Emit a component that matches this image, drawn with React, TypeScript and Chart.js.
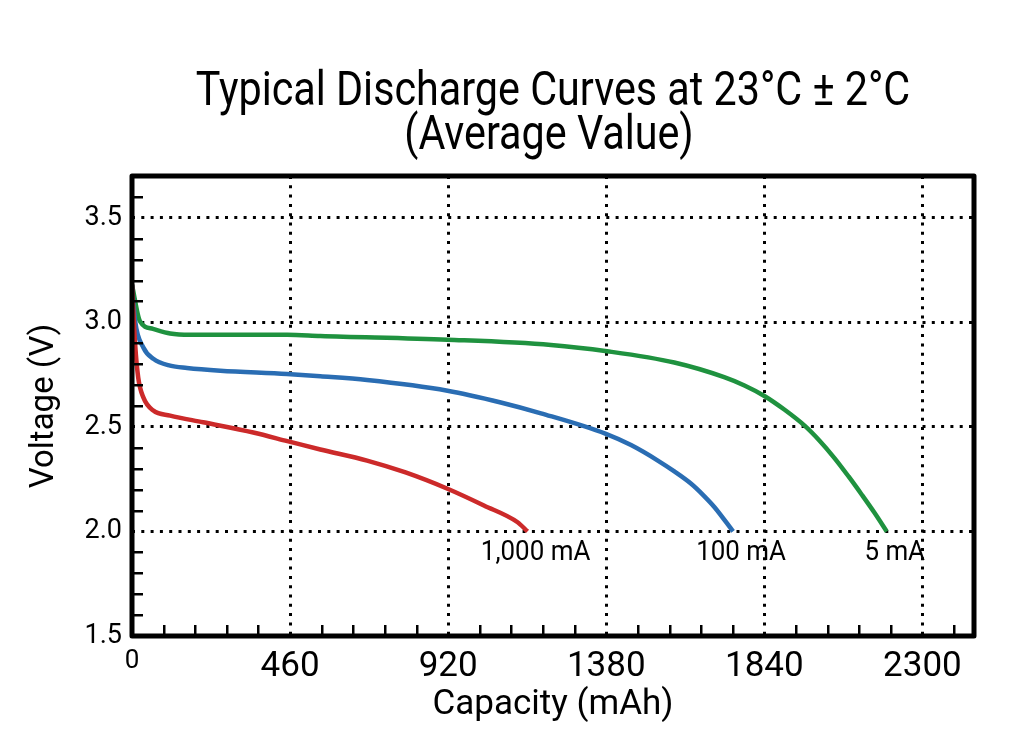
import React, { useEffect, useRef } from "react";
import { Chart, registerables } from "chart.js";

Chart.register(...registerables);

// ---------- data ----------
const TITLE_LINES = ["Typical Discharge Curves at 23°C ± 2°C", "(Average Value)"];
const X_TITLE = "Capacity (mAh)";
const Y_TITLE = "Voltage (V)";

const X_MIN = 0;
const X_MAX = 2450;
const X_MAJOR = 460;
const X_MINOR = 92;
const Y_MIN = 1.5;
const Y_MAX = 3.7;
const Y_MAJOR = 0.5;
const Y_MINOR = 0.1;

const seriesLabels = ["1,000 mA", "100 mA", "5 mA"];
const seriesColors = ["#cc2a2a", "#2a6db3", "#1f923f"];

const redCapacity = [0, 9, 18, 33, 62, 111, 207, 353, 452, 548, 684, 796, 918, 1024, 1122, 1151];
const redVoltage = [3.18, 2.898, 2.737, 2.641, 2.578, 2.554, 2.522, 2.473, 2.432, 2.392, 2.339, 2.282, 2.204, 2.124, 2.044, 2.0];

const blueCapacity = [0, 9, 33, 62, 111, 160, 257, 451, 548, 684, 918, 1073, 1190, 1379, 1452, 1530, 1578, 1627, 1662, 1695, 1749];
const blueVoltage = [3.18, 3.008, 2.88, 2.826, 2.793, 2.782, 2.769, 2.753, 2.742, 2.724, 2.673, 2.617, 2.565, 2.467, 2.413, 2.339, 2.287, 2.228, 2.174, 2.116, 2.0];

const greenCapacity = [0, 23, 61, 111, 169, 452, 548, 918, 1219, 1382, 1578, 1723, 1782, 1840, 1898, 1957, 2000, 2044, 2085, 2123, 2161, 2196];
const greenVoltage = [3.18, 3.006, 2.969, 2.947, 2.941, 2.941, 2.935, 2.917, 2.892, 2.862, 2.808, 2.738, 2.698, 2.648, 2.583, 2.506, 2.435, 2.351, 2.263, 2.177, 2.088, 2.0];

const seriesCapacity = [redCapacity, blueCapacity, greenCapacity];
const seriesVoltage = [redVoltage, blueVoltage, greenVoltage];

// ---------- helpers ----------
const FONT = "Roboto, 'Liberation Sans', sans-serif";

const isMajor = (v: number, step: number) =>
  Math.abs(v / step - Math.round(v / step)) < 1e-6;

const titlePlugin = {
  id: "condensedTitle",
  afterDraw(chart: any) {
    const { ctx, chartArea } = chart;
    const cx = (chartArea.left + chartArea.right) / 2;
    ctx.save();
    ctx.fillStyle = "#000";
    ctx.font = `48px ${FONT}`;
    ctx.textAlign = "center";
    ctx.textBaseline = "middle";
    TITLE_LINES.forEach((line, i) => {
      ctx.save();
      ctx.translate(cx - i * 4, 93 + i * 44);
      ctx.scale(0.86, 1);
      ctx.fillText(line, 0, 0);
      ctx.restore();
    });
    ctx.restore();
  },
};

const decorPlugin = {
  id: "decor",
  afterDatasetsDraw(chart: any) {
    const { ctx, chartArea } = chart;
    const xs = chart.scales.x;
    const ys = chart.scales.y;
    ctx.save();
    // minor ticks (inward)
    ctx.strokeStyle = "#000";
    ctx.lineWidth = 2.5;
    ctx.beginPath();
    xs.ticks.forEach((t: any) => {
      if (isMajor(t.value, X_MAJOR)) return;
      const px = Math.round(xs.getPixelForValue(t.value)) + 0.25;
      ctx.moveTo(px, chartArea.bottom);
      ctx.lineTo(px, chartArea.bottom - 11);
    });
    ys.ticks.forEach((t: any) => {
      if (isMajor(t.value, Y_MAJOR)) return;
      const py = Math.round(ys.getPixelForValue(t.value)) + 0.25;
      ctx.moveTo(chartArea.left, py);
      ctx.lineTo(chartArea.left + 11, py);
    });
    ctx.stroke();
    // frame
    ctx.lineWidth = 5;
    ctx.lineJoin = "round";
    ctx.strokeRect(chartArea.left, chartArea.top, chartArea.right - chartArea.left, chartArea.bottom - chartArea.top);
    // series end labels
    ctx.fillStyle = "#000";
    ctx.font = `27px ${FONT}`;
    ctx.textAlign = "center";
    ctx.textBaseline = "top";
    chart.data.datasets.forEach((ds: any, i: number) => {
      const meta = chart.getDatasetMeta(i);
      const last = meta.data[meta.data.length - 1];
      if (!last) return;
      ctx.save();
      ctx.translate(last.x + 8, last.y + 8);
      ctx.scale(0.96, 1);
      ctx.fillText(ds.label, 0, 0);
      ctx.restore();
    });
    ctx.restore();
  },
};

export default function App() {
  const canvasRef = useRef<HTMLCanvasElement | null>(null);

  useEffect(() => {
    if (!canvasRef.current) return;
    const datasets = seriesLabels.map((label, i) => ({
      label,
      data: seriesCapacity[i].map((x, j) => ({ x, y: seriesVoltage[i][j] })),
      borderColor: seriesColors[i],
      backgroundColor: seriesColors[i],
      borderWidth: 4.5,
      pointRadius: 0,
      cubicInterpolationMode: "monotone" as const,
      fill: false,
      order: i,
    }));

    const chart = new Chart(canvasRef.current, {
      type: "line",
      data: { datasets },
      plugins: [decorPlugin, titlePlugin],
      options: {
        animation: false,
        responsive: true,
        maintainAspectRatio: false,
        layout: { padding: { left: 0, right: 50, top: 176, bottom: 0 } },
        plugins: {
          legend: { display: false },
          tooltip: { enabled: false },
          title: { display: false },
        },
        scales: {
          x: {
            type: "linear",
            min: X_MIN,
            max: X_MAX,
            afterFit: (scale: any) => {
              scale.height = 112;
            },
            border: { display: false, dash: [3, 6.3] },
            grid: {
              drawTicks: false,
              lineWidth: 3,
              color: (c: any) =>
                c.tick && isMajor(c.tick.value, X_MAJOR) && c.tick.value > X_MIN ? "#000" : "rgba(0,0,0,0)",
            },
            ticks: {
              stepSize: X_MINOR,
              autoSkip: false,
              maxRotation: 0,
              includeBounds: false,
              padding: 10,
              color: "#000",
              font: (c: any) => ({ family: FONT, size: c.tick && c.tick.value === 0 ? 26 : 35 }),
              callback: (v: any) => (isMajor(Number(v), X_MAJOR) ? String(Math.round(Number(v))) : ""),
            },
            title: {
              display: true,
              text: X_TITLE,
              color: "#000",
              font: { family: FONT, size: 35 },
              padding: { top: 0, bottom: 22 },
            },
          },
          y: {
            type: "linear",
            min: Y_MIN,
            max: Y_MAX,
            afterFit: (scale: any) => {
              scale.width = 132;
            },
            border: { display: false, dash: [3, 6.3] },
            grid: {
              drawTicks: false,
              lineWidth: 3,
              color: (c: any) =>
                c.tick && isMajor(c.tick.value, Y_MAJOR) && c.tick.value > Y_MIN + 1e-6 ? "#000" : "rgba(0,0,0,0)",
            },
            ticks: {
              stepSize: Y_MINOR,
              autoSkip: false,
              includeBounds: false,
              padding: 10,
              color: "#000",
              font: { family: FONT, size: 27 },
              callback: (v: any) => (isMajor(Number(v), Y_MAJOR) ? Number(v).toFixed(1) : ""),
            },
            title: {
              display: true,
              text: Y_TITLE,
              color: "#000",
              font: { family: FONT, size: 33 },
              padding: { top: 25, bottom: 0 },
            },
          },
        },
      },
    });
    return () => chart.destroy();
  }, []);

  return (
    <div style={{ position: "fixed", left: 0, top: 0, width: 1024, height: 748, background: "#fff" }}>
      <canvas ref={canvasRef} />
    </div>
  );
}
